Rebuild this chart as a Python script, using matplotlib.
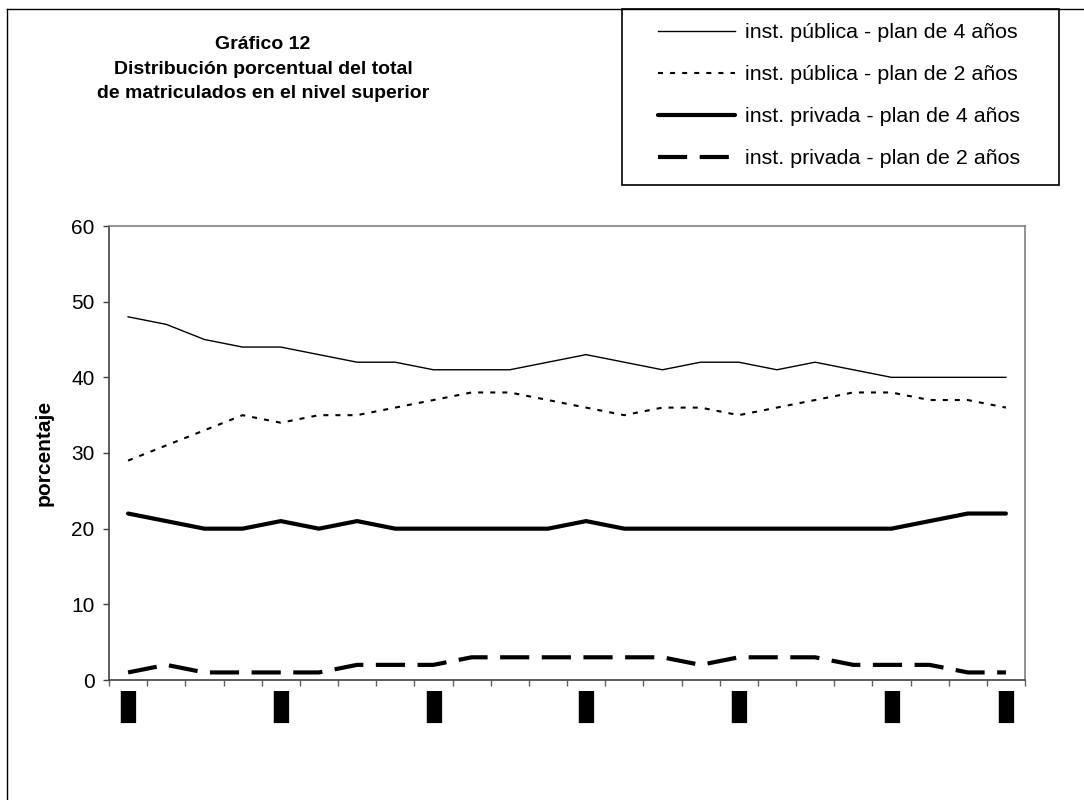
import matplotlib
matplotlib.use('Agg')
import matplotlib.pyplot as plt
from matplotlib.patches import Rectangle
from matplotlib.lines import Line2D
import numpy as np

plt.rcParams['font.family'] = ['Liberation Sans', 'DejaVu Sans']

# 24 periodos (las etiquetas del eje x salen como bloques negros en el original)
periodos = list(range(24))
etiquetas_x = {0: '▮', 4: '▮', 8: '▮', 12: '▮', 16: '▮', 20: '▮', 23: '▮'}

publica_4 = [48, 47, 45, 44, 44, 43, 42, 42, 41, 41, 41, 42,
             43, 42, 41, 42, 42, 41, 42, 41, 40, 40, 40, 40]
publica_2 = [29, 31, 33, 35, 34, 35, 35, 36, 37, 38, 38, 37,
             36, 35, 36, 36, 35, 36, 37, 38, 38, 37, 37, 36]
privada_4 = [22, 21, 20, 20, 21, 20, 21, 20, 20, 20, 20, 20,
             21, 20, 20, 20, 20, 20, 20, 20, 20, 21, 22, 22]
privada_2 = [1, 2, 1, 1, 1, 1, 2, 2, 2, 3, 3, 3,
             3, 3, 3, 2, 3, 3, 3, 2, 2, 2, 1, 1]

nombres = ['inst. pública - plan de 4 años',
           'inst. pública - plan de 2 años',
           'inst. privada - plan de 4 años',
           'inst. privada - plan de 2 años']

W, H = 1084, 800
fig = plt.figure(figsize=(W / 100, H / 100), dpi=100)
ax = fig.add_axes([109 / W, 1 - 680 / H, (1025 - 109) / W, (680 - 226) / H])

l1, = ax.plot(periodos, publica_4, color='black', lw=1.0, label=nombres[0])
l2, = ax.plot(periodos, publica_2, color='black', lw=1.5,
              linestyle=(0, (2.4, 3.4)), label=nombres[1])
l3, = ax.plot(periodos, privada_4, color='black', lw=3.0,
              solid_joinstyle='round', solid_capstyle='round', label=nombres[2])
l4, = ax.plot(periodos, privada_2, color='black', lw=3.0,
              linestyle=(0, (7, 3)), label=nombres[3])

ax.set_xlim(-0.5, 23.5)
ax.set_ylim(0, 60)
ax.set_yticks(range(0, 61, 10))
ax.tick_params(axis='y', direction='out', length=4.3, width=1, color='#404040',
               labelsize=15, pad=6)

ax.set_xticks(list(etiquetas_x.keys()))
ax.set_xticklabels(list(etiquetas_x.values()), family='DejaVu Sans', fontsize=30)
ax.set_xticks(np.arange(-0.5, 24, 1), minor=True)
ax.tick_params(axis='x', which='major', length=0, pad=3.5)
ax.tick_params(axis='x', which='minor', direction='out', length=4.3, width=1,
               color='#606060')

ax.spines['left'].set_color('#404040')
ax.spines['bottom'].set_color('#404040')
ax.spines['top'].set_color('#808080')
ax.spines['right'].set_color('#808080')
for s in ax.spines.values():
    s.set_linewidth(1.2)

fig.text(44 / W, 1 - 453 / H, 'porcentaje', rotation=90, fontsize=15,
         fontweight='bold', ha='center', va='center')

fig.text(263 / W, 1 - 69 / H,
         'Gráfico 12\nDistribución porcentual del total\nde matriculados en el nivel superior',
         fontsize=14, fontweight='bold', ha='center', va='center',
         multialignment='center', linespacing=1.56)

# marco exterior
fig.add_artist(Line2D([7 / W, 7 / W], [0, 1 - 9 / H], transform=fig.transFigure,
                      color='black', lw=1))
fig.add_artist(Line2D([7 / W, 1], [1 - 9 / H, 1 - 9 / H], transform=fig.transFigure,
                      color='black', lw=1))

# leyenda
fig.add_artist(Rectangle((622 / W, 1 - 185 / H), (1059 - 622) / W, (185 - 9) / H,
                         transform=fig.transFigure, fill=False, ec='black', lw=1.2))
fig.legend(handles=[l1, l2, l3, l4], loc='upper left',
           bbox_to_anchor=(658 / W, 1 - 23 / H), frameon=False, fontsize=15.4,
           borderpad=0, borderaxespad=0, handlelength=3.6, handletextpad=0.47,
           labelspacing=1.08)

fig.savefig('out.png', dpi=100, facecolor='white')
